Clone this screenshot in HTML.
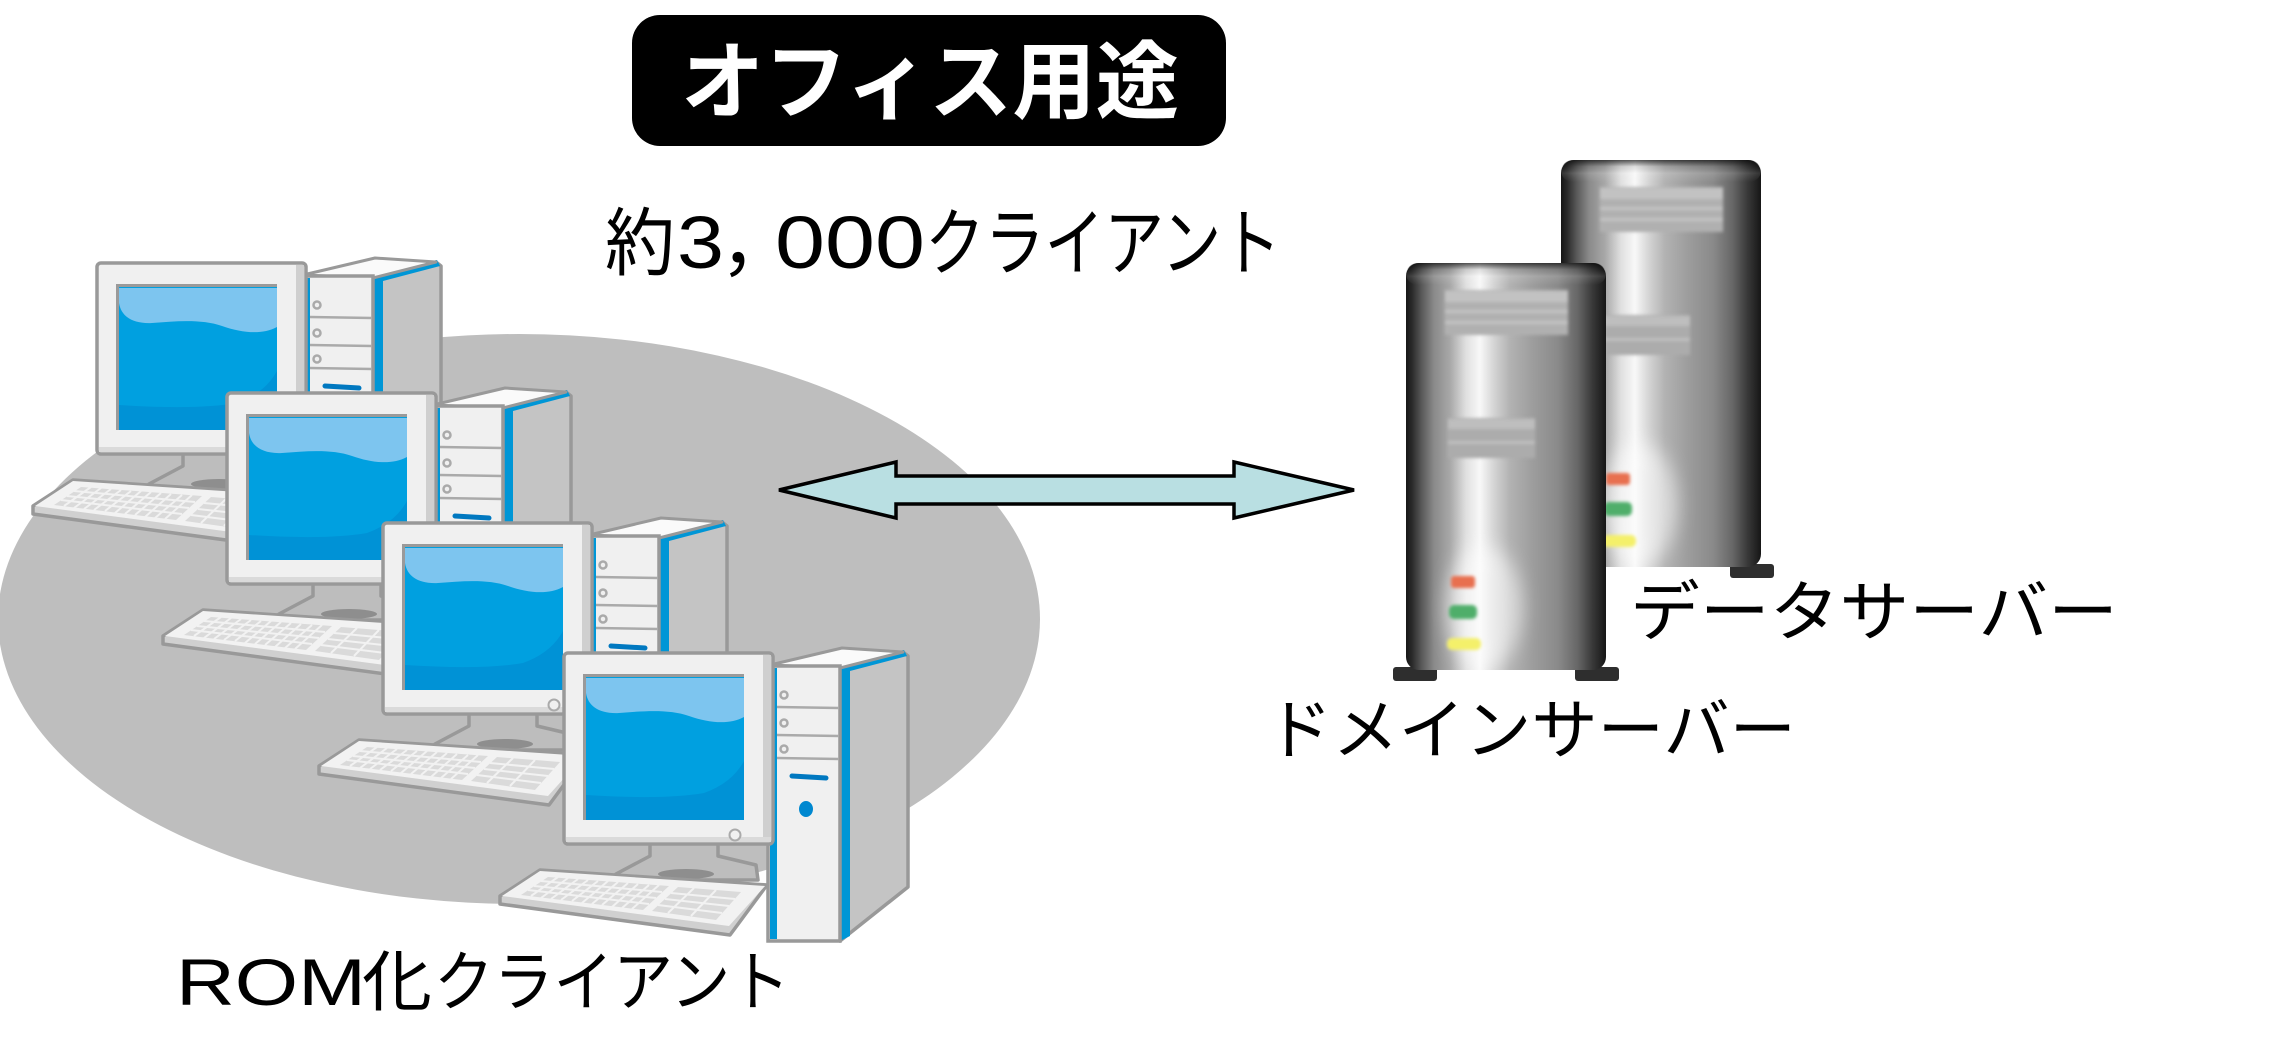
<!DOCTYPE html>
<html>
<head>
<meta charset="utf-8">
<style>
html,body{margin:0;padding:0;background:#fff;}
svg{display:block;}
text{font-family:"Liberation Sans","Noto Sans CJK JP",sans-serif;}
</style>
</head>
<body>
<svg xmlns="http://www.w3.org/2000/svg" xmlns:xlink="http://www.w3.org/1999/xlink" width="2288" height="1062" viewBox="0 0 2288 1062">
<defs>
  <linearGradient id="sg" x1="0" y1="0" x2="1" y2="0">
    <stop offset="0" stop-color="#161616"/>
    <stop offset="0.03" stop-color="#2a2a2a"/>
    <stop offset="0.08" stop-color="#5a5a5a"/>
    <stop offset="0.14" stop-color="#8a8a8a"/>
    <stop offset="0.22" stop-color="#a8a8a8"/>
    <stop offset="0.30" stop-color="#e0e0e0"/>
    <stop offset="0.37" stop-color="#f8f8f8"/>
    <stop offset="0.44" stop-color="#d4d4d4"/>
    <stop offset="0.52" stop-color="#b2b2b2"/>
    <stop offset="0.64" stop-color="#9c9c9c"/>
    <stop offset="0.76" stop-color="#8a8a8a"/>
    <stop offset="0.86" stop-color="#666"/>
    <stop offset="0.93" stop-color="#3a3a3a"/>
    <stop offset="1" stop-color="#161616"/>
  </linearGradient>
  <linearGradient id="tg" x1="0" y1="0" x2="0" y2="1">
    <stop offset="0" stop-color="#000" stop-opacity="0.65"/>
    <stop offset="0.3" stop-color="#000" stop-opacity="0.1"/>
    <stop offset="0.6" stop-color="#fff" stop-opacity="0.12"/>
    <stop offset="1" stop-color="#fff" stop-opacity="0"/>
  </linearGradient>
  <filter id="b1" x="-20%" y="-20%" width="140%" height="140%"><feGaussianBlur stdDeviation="1.5"/></filter>
  <filter id="b8" x="-50%" y="-50%" width="200%" height="200%"><feGaussianBlur stdDeviation="9"/></filter>

  <g id="pc">
    <!-- tower side -->
    <polygon points="276,15 339,-1 344,3 344,234 276,288" fill="#C4C4C4" stroke="#999" stroke-width="3.5" stroke-linejoin="round"/>
    <polygon points="276,14 286,12 286,283 276,288" fill="#0096D6"/>
    <polygon points="276,13 340,-3 343,3 286,18" fill="#0096D6"/>
    <!-- tower top -->
    <polygon points="206,12 278,-5 339,-1 276,15" fill="#FAFAFA" stroke="#999" stroke-width="3" stroke-linejoin="round"/>
    <!-- tower front -->
    <rect x="204" y="13" width="72" height="275" fill="#F0F0F0" stroke="#999" stroke-width="3.5"/>
    <rect x="206" y="15" width="7" height="271" fill="#0096D6"/>
    <g stroke="#AAAAAA" stroke-width="2.5" fill="none">
      <line x1="213" y1="54" x2="275" y2="55"/>
      <line x1="213" y1="82" x2="275" y2="83"/>
      <line x1="213" y1="105" x2="275" y2="106"/>
      <circle cx="220" cy="42" r="3.5"/>
      <circle cx="220" cy="70" r="3.5"/>
      <circle cx="220" cy="96" r="3.5"/>
    </g>
    <line x1="228" y1="123" x2="262" y2="125" stroke="#0078C0" stroke-width="5" stroke-linecap="round"/>
    <ellipse cx="242" cy="156" rx="7" ry="8" fill="#0088D0"/>
    <!-- stand -->
    <polygon points="86,186 154,186 154,203 192,212 194,227 56,227 52,221 86,203" fill="#BDBDBD" stroke="#999" stroke-width="3.5" stroke-linejoin="round"/>
    <ellipse cx="122" cy="221" rx="28" ry="5" fill="#8E8E8E"/>
    <!-- monitor -->
    <rect x="0" y="0" width="209" height="191" rx="4" fill="#F0F0F0" stroke="#999" stroke-width="3.5"/>
    <rect x="199" y="2" width="8" height="187" fill="#CFCFCF"/>
    <rect x="2" y="184" width="205" height="5" fill="#DADADA"/>
    <rect x="19" y="21" width="161" height="146" fill="#9A9A9A"/>
    <rect x="22" y="24" width="158" height="143" fill="#00A0E0"/>
    <path d="M22 25 H180 V64 C165 72 145 70 125 63 C105 56 80 58 55 60 C35 61 24 53 22 40 Z" fill="#7DC5EF"/>
    <path d="M22 142 Q100 147 140 140 Q168 130 180 108 V167 H22 Z" fill="#0092D6"/>
    <circle cx="171" cy="182" r="5.5" fill="#F0F0F0" stroke="#AAA" stroke-width="2"/>
    <!-- keyboard -->
    <polygon points="-64,243 -24,217 203,232 166,282 -64,251" fill="#D0D0D0" stroke="#999" stroke-width="3.5" stroke-linejoin="round"/>
    <polygon points="-62,243 -24,218 201,233 165,273" fill="#F2F2F2"/>
    <polygon points="-43,242 79,257 105,233 -16,224" fill="#DADADA"/>
    <polygon points="88,258 152,267 177,239 114,234" fill="#DADADA"/>
    <g stroke="#F2F2F2" stroke-width="2">
      <line x1="-36" y1="237" x2="85" y2="251"/>
      <line x1="-30" y1="233" x2="92" y2="245"/>
      <line x1="-23" y1="228" x2="98" y2="239"/>
      <line x1="-33" y1="243" x2="-6" y2="224"/>
      <line x1="-23" y1="245" x2="4" y2="225"/>
      <line x1="-13" y1="246" x2="14" y2="226"/>
      <line x1="-3" y1="247" x2="24" y2="227"/>
      <line x1="8" y1="248" x2="34" y2="228"/>
      <line x1="18" y1="250" x2="44" y2="228"/>
      <line x1="28" y1="251" x2="54" y2="229"/>
      <line x1="38" y1="252" x2="64" y2="230"/>
      <line x1="48" y1="254" x2="74" y2="231"/>
      <line x1="58" y1="255" x2="85" y2="232"/>
      <line x1="68" y1="256" x2="95" y2="232"/>
      <line x1="94" y1="252" x2="158" y2="260"/>
      <line x1="101" y1="246" x2="165" y2="253"/>
      <line x1="107" y1="240" x2="171" y2="246"/>
      <line x1="104" y1="260" x2="130" y2="235"/>
      <line x1="127" y1="263" x2="152" y2="237"/>
    </g>
  </g>

  <g id="srv">
    <rect x="-13" y="404" width="44" height="14" rx="3" fill="#2e2e2e"/>
    <rect x="169" y="404" width="44" height="14" rx="3" fill="#2e2e2e"/>
    <rect x="0" y="0" width="200" height="407" rx="13" fill="url(#sg)"/>
    <ellipse cx="78" cy="345" rx="38" ry="62" fill="#fff" opacity="0.55" filter="url(#b8)"/>
    <rect x="0" y="0" width="200" height="22" rx="12" fill="url(#tg)"/>
    <g filter="url(#b1)">
      <rect x="39" y="27" width="123" height="45" fill="#B0B0B0"/>
      <rect x="39" y="28" width="123" height="11" fill="#C2C2C2"/>
      <rect x="39" y="47" width="123" height="3" fill="#C4C4C4"/>
      <rect x="39" y="58" width="123" height="3" fill="#C4C4C4"/>
      <rect x="42" y="155" width="87" height="40" fill="#ACACAC"/>
      <rect x="42" y="156" width="87" height="10" fill="#BEBEBE"/>
      <rect x="42" y="178" width="87" height="3" fill="#C0C0C0"/>
      <rect x="45" y="313" width="24" height="12" rx="3" fill="#E8704F"/>
      <rect x="43" y="342" width="28" height="14" rx="5" fill="#4FAE6A"/>
      <rect x="41" y="375" width="34" height="12" rx="5" fill="#F4F06A"/>
    </g>
  </g>
</defs>

<!-- background ellipse -->
<ellipse cx="519" cy="619" rx="521" ry="285" fill="#BEBEBE"/>

<!-- arrow -->
<polygon points="779,490 896,462 896,476 1234,476 1234,462 1354,490 1234,518 1234,504 896,504 896,518" fill="#B9DFE2" stroke="#000" stroke-width="3.5" stroke-linejoin="miter"/>

<!-- computers -->
<use xlink:href="#pc" href="#pc" x="97" y="263"/>
<use xlink:href="#pc" href="#pc" x="227" y="393"/>
<use xlink:href="#pc" href="#pc" x="383" y="523"/>
<use xlink:href="#pc" href="#pc" x="564" y="653"/>

<!-- servers -->
<use xlink:href="#srv" href="#srv" x="1561" y="160"/>
<use xlink:href="#srv" href="#srv" x="1406" y="263"/>

<!-- title box -->
<rect x="632" y="15" width="594" height="131" rx="28" fill="#000"/>
<text x="681" y="112" font-size="85" font-weight="bold" fill="#fff" textLength="498" lengthAdjust="spacingAndGlyphs">オフィス用途</text>

<!-- client count -->
<text x="605" y="269" font-size="74" fill="#000" textLength="70" lengthAdjust="spacingAndGlyphs">約</text>
<text x="677" y="268" font-size="74" fill="#000" textLength="47" lengthAdjust="spacingAndGlyphs">3</text>
<text x="720" y="269" font-size="74" fill="#000">，</text>
<text x="775" y="268" font-size="74" fill="#000" textLength="150" lengthAdjust="spacingAndGlyphs">000</text>
<text x="925" y="269" font-size="74" fill="#000" textLength="356" lengthAdjust="spacingAndGlyphs">クライアント</text>

<!-- ROM client label -->
<text x="176" y="1005" font-size="66" fill="#000" textLength="190" lengthAdjust="spacingAndGlyphs">ROM</text>
<text x="362" y="1005" font-size="66" fill="#000" textLength="70" lengthAdjust="spacingAndGlyphs">化</text>
<text x="434" y="1005" font-size="66" fill="#000" textLength="356" lengthAdjust="spacingAndGlyphs">クライアント</text>

<!-- server labels -->
<text x="1630" y="635" font-size="66" fill="#000" textLength="488" lengthAdjust="spacingAndGlyphs">データサーバー</text>
<text x="1266" y="753" font-size="66" fill="#000" textLength="530" lengthAdjust="spacingAndGlyphs">ドメインサーバー</text>
</svg>
</body>
</html>
